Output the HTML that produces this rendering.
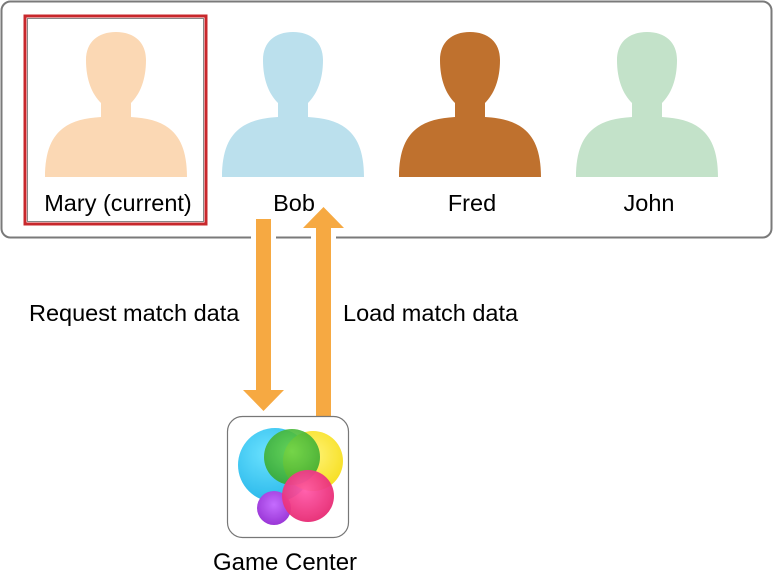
<!DOCTYPE html>
<html><head><meta charset="utf-8"><style>
html,body{margin:0;padding:0;background:#fff;}
svg{display:block;}
text{font-family:"Liberation Sans",Arial,sans-serif;fill:#000;}
</style></head><body>
<svg width="774" height="571" viewBox="0 0 774 571" xmlns="http://www.w3.org/2000/svg">
<defs>
<g id="person">
<path d="M-15 103 C-24 94,-30 80,-30 60 C-30 42,-18 32,0 32 C18 32,30 42,30 60 C30 80,24 94,15 103 L15 117 C50 119,71 132,71 177 L-71 177 C-71 132,-50 119,-15 117 Z"/>
</g>
<radialGradient id="gc" cx="0.4" cy="0.35" r="0.7"><stop offset="0" stop-color="#5fe0ff"/><stop offset="1" stop-color="#14b0e8"/></radialGradient>
<radialGradient id="gy" cx="0.5" cy="0.4" r="0.7"><stop offset="0" stop-color="#fff36a"/><stop offset="1" stop-color="#f5d800"/></radialGradient>
<radialGradient id="gg" cx="0.5" cy="0.4" r="0.7"><stop offset="0" stop-color="#5ad03a"/><stop offset="1" stop-color="#1f9a1a"/></radialGradient>
<radialGradient id="gp" cx="0.5" cy="0.4" r="0.7"><stop offset="0" stop-color="#c060ff"/><stop offset="1" stop-color="#8a1ccc"/></radialGradient>
<radialGradient id="gr" cx="0.45" cy="0.4" r="0.7"><stop offset="0" stop-color="#ff4aa0"/><stop offset="1" stop-color="#e0105e"/></radialGradient>
</defs>
<rect x="1.5" y="1.5" width="770" height="236" rx="9" fill="#fff" stroke="#7a7a7a" stroke-width="2"/>
<rect x="25" y="16" width="181" height="208" fill="none" stroke="#c8282c" stroke-width="3"/>
<rect x="27.5" y="18.5" width="176" height="203" fill="none" stroke="#888" stroke-width="1"/>
<g fill="#fbd8b4" transform="translate(116,0)"><use href="#person"/></g>
<g fill="#bbe0ed" transform="translate(293,0)"><use href="#person"/></g>
<g fill="#bf712e" transform="translate(470,0)"><use href="#person"/></g>
<g fill="#c3e2c9" transform="translate(647,0)"><use href="#person"/></g>
<g font-size="23.5" text-anchor="middle">
<text x="118" y="211">Mary (current)</text>
<text x="294" y="211">Bob</text>
<text x="472" y="211">Fred</text>
<text x="649" y="211">John</text>
</g>
<rect x="251" y="234" width="25" height="8" fill="#fff"/>
<rect x="311" y="234" width="25" height="8" fill="#fff"/>
<g fill="#f6a942">
<rect x="256" y="219" width="15" height="172"/>
<polygon points="243,390 284,390 263.5,411"/>
<rect x="316" y="227" width="15" height="190"/>
<polygon points="303,228 344,228 323.5,207"/>
</g>
<g font-size="23.5">
<text x="29" y="321">Request match data</text>
<text x="343" y="321">Load match data</text>
</g>
<rect x="227.5" y="416.5" width="121" height="121" rx="15" fill="#fff" stroke="#777" stroke-width="1.2"/>
<g opacity="0.92">
<circle cx="275" cy="465" r="37" fill="url(#gc)"/>
<circle cx="313" cy="461" r="30" fill="url(#gy)"/>
<circle cx="292" cy="457" r="28" fill="url(#gg)" opacity="0.9"/>
<circle cx="274" cy="508" r="17" fill="url(#gp)"/>
<circle cx="308" cy="496" r="26" fill="url(#gr)" opacity="0.95"/>
</g>
<text x="285" y="570" font-size="24" text-anchor="middle">Game Center</text>
</svg>
</body></html>
